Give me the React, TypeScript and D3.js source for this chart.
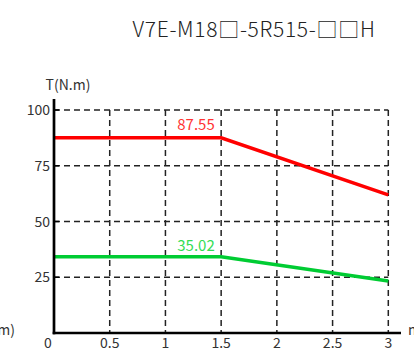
import React from "react";
import * as d3 from "d3";

const title = "V7E-M18□-5R515-□□H";
const xTicks = [0, 0.5, 1, 1.5, 2, 2.5, 3];
const yTicks = [25, 50, 75, 100];
const speeds = [0, 1.5, 3];
const peakTorque = [87.55, 87.55, 61.9];
const ratedTorque = [34.2, 34.2, 23.3];
const peakLabel = "87.55";
const ratedLabel = "35.02";
const yLabel = "T(N.m)";
const xLabel = "n(r/min)";

const W = 414;
const H = 357;
const FONT = "'Noto Sans CJK SC', 'Noto Sans', sans-serif";

export default function App() {
  const x = d3.scaleLinear().domain([0, 3]).range([54, 388.3]);
  const y = d3.scaleLinear().domain([0, 100]).range([333, 110]);
  const line = d3
    .line<number>()
    .x((_, i) => x(speeds[i]))
    .y((d) => y(d));

  return (
    <svg
      width={W}
      height={H}
      style={{ position: "absolute", left: 0, top: 0, background: "#fff" }}
    >
      <text
        x={254}
        y={37}
        fontSize={21}
        letterSpacing={0.7}
        fontWeight={300}
        fontFamily={FONT}
        fill="#222"
        textAnchor="middle"
      >
        {title}
      </text>
      {/* grid */}
      {yTicks.map((t) => (
        <line
          key={"h" + t}
          x1={x(0)}
          x2={x(3)}
          y1={y(t)}
          y2={y(t)}
          stroke="#222"
          strokeWidth={1.5}
          strokeDasharray="6 4"
        />
      ))}
      {xTicks.slice(1).map((t) => (
        <line
          key={"v" + t}
          x1={x(t)}
          x2={x(t)}
          y1={y(100)}
          y2={y(0)}
          stroke="#222"
          strokeWidth={1.5}
          strokeDasharray="6 4"
        />
      ))}
      {/* series */}
      <path d={line(peakTorque) || ""} fill="none" stroke="#ff0000" strokeWidth={3.5} />
      <path d={line(ratedTorque) || ""} fill="none" stroke="#00cc33" strokeWidth={3.5} />
      <text x={196} y={130} fontSize={15} fontFamily={FONT} fill="#ff3333" textAnchor="middle">
        {peakLabel}
      </text>
      <text x={196} y={251} fontSize={15} fontFamily={FONT} fill="#33dd55" textAnchor="middle">
        {ratedLabel}
      </text>
      {/* axes */}
      <line x1={x(0)} x2={x(0)} y1={99} y2={y(0) + 1.3} stroke="#000" strokeWidth={2.7} />
      <line x1={x(0) - 1.3} x2={401} y1={y(0)} y2={y(0)} stroke="#000" strokeWidth={2.7} />
      {yTicks.map((t) => (
        <line key={"yt" + t} x1={x(0)} x2={x(0) + 5} y1={y(t)} y2={y(t)} stroke="#000" strokeWidth={1.5} />
      ))}
      {yTicks.map((t) => (
        <text
          key={"yl" + t}
          x={50}
          y={y(t) + 5}
          fontSize={14}
          fontFamily={FONT}
          fill="#333"
          textAnchor="end"
        >
          {t}
        </text>
      ))}
      {xTicks.map((t) => (
        <text
          key={"xl" + t}
          x={t === 0 ? x(t) - 6 : x(t)}
          y={348}
          fontSize={14}
          fontFamily={FONT}
          fill="#333"
          textAnchor="middle"
        >
          {t}
        </text>
      ))}
      <text x={68} y={90} fontSize={14} fontFamily={FONT} fill="#333" textAnchor="middle">
        {yLabel}
      </text>
      <text x={15} y={335} fontSize={14} fontFamily={FONT} fill="#333" textAnchor="end">
        {yLabel}
      </text>
      <text x={408} y={335} fontSize={14} fontFamily={FONT} fill="#333">
        {xLabel}
      </text>
    </svg>
  );
}
